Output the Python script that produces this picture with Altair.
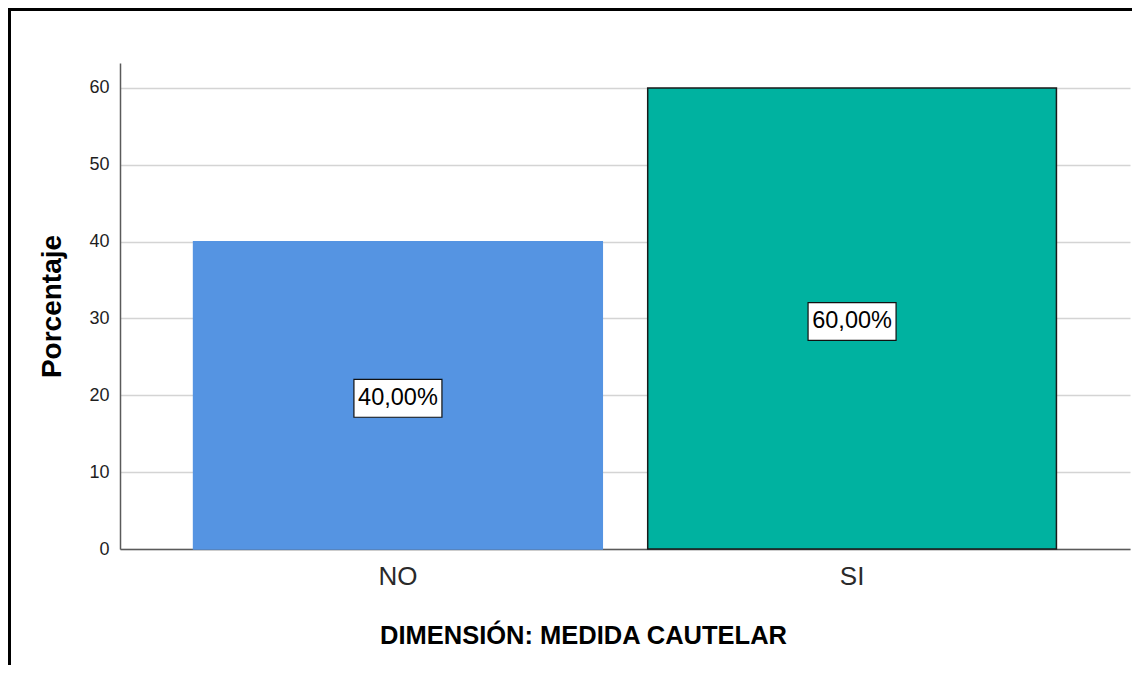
import altair as alt
import pandas as pd

categories = ["NO", "SI"]
percentages = [40.0, 60.0]
labels = ["40,00%", "60,00%"]
y_ticks = [0, 10, 20, 30, 40, 50, 60]

df = pd.DataFrame({"cat": categories, "pct": percentages, "label": labels})
df["mid"] = df["pct"] / 2

FONT = "Liberation Sans"

x_enc = alt.X(
    "cat:N",
    sort=categories,
    scale=alt.Scale(paddingInner=0.1, paddingOuter=0.162),
    axis=alt.Axis(
        title="DIMENSIÓN: MEDIDA CAUTELAR",
        titleFont=FONT, titleFontSize=25.5, titleFontWeight="bold", titleColor="#000000",
        titleX=463, titleY=86, titleAlign="center", titleBaseline="middle",
        labelFont=FONT, labelFontSize=26, labelColor="#2a2a2a", labelPadding=14,
        labelAngle=0,
        ticks=False, domainColor="#5a5a5a", domainWidth=1.5, grid=False,
    ),
)

y_scale = alt.Scale(domain=[0, 63.25], nice=False, zero=True)

bars = alt.Chart(df).mark_bar(strokeWidth=1.5).encode(
    x=x_enc,
    y=alt.Y(
        "pct:Q",
        scale=y_scale,
        axis=alt.Axis(
            values=y_ticks,
            title="Porcentaje",
            titleFont=FONT, titleFontSize=28, titleFontWeight="bold", titleColor="#000000",
            titlePadding=22,
            labelFont=FONT, labelFontSize=18, labelColor="#1e1e1e", labelPadding=11,
            ticks=False, domainColor="#5a5a5a", domainWidth=1.5,
            grid=True, gridColor="#d4d4d4", gridWidth=1.5,
        ),
    ),
    fill=alt.Fill("cat:N", scale=alt.Scale(domain=categories, range=["#5594E2", "#00B2A0"]), legend=None),
    stroke=alt.Stroke("cat:N", scale=alt.Scale(domain=categories, range=["#5594E2", "#1a1a1a"]), legend=None),
)

boxes = alt.Chart(df).mark_point(
    shape="M-1,-0.43L1,-0.43L1,0.43L-1,0.43Z",
    size=88 * 88,
    filled=True,
    fill="white",
    stroke="#111111",
    strokeWidth=1.2,
    opacity=1,
    fillOpacity=1,
    strokeOpacity=1,
    yOffset=3,
).encode(
    x=alt.X("cat:N", sort=categories),
    y=alt.Y("mid:Q", scale=y_scale),
)

texts = alt.Chart(df).mark_text(
    font=FONT, fontSize=23.5, color="#000000", baseline="middle", align="center", yOffset=3,
).encode(
    x=alt.X("cat:N", sort=categories),
    y=alt.Y("mid:Q", scale=y_scale),
    text="label:N",
)

frame_df = pd.DataFrame({"k": [0]})
top_border = alt.Chart(frame_df).mark_rule(color="#000000", strokeWidth=3).encode(
    x=alt.value(-110.5), x2=alt.value(1030), y=alt.value(-53.5)
)
left_border = alt.Chart(frame_df).mark_rule(color="#000000", strokeWidth=3).encode(
    x=alt.value(-110.5), y=alt.value(-55), y2=alt.value(620)
)

chart = (
    alt.layer(bars, boxes, texts, top_border, left_border)
    .properties(
        width=1010,
        height=486,
        background="white",
        autosize=alt.AutoSizeParams(type="none"),
        padding={"left": 112, "top": 55, "right": 2, "bottom": 116},
    )
    .configure_view(strokeWidth=0, stroke="transparent")
)

chart.save("out.html", embed_options={"renderer": "svg", "actions": False})
